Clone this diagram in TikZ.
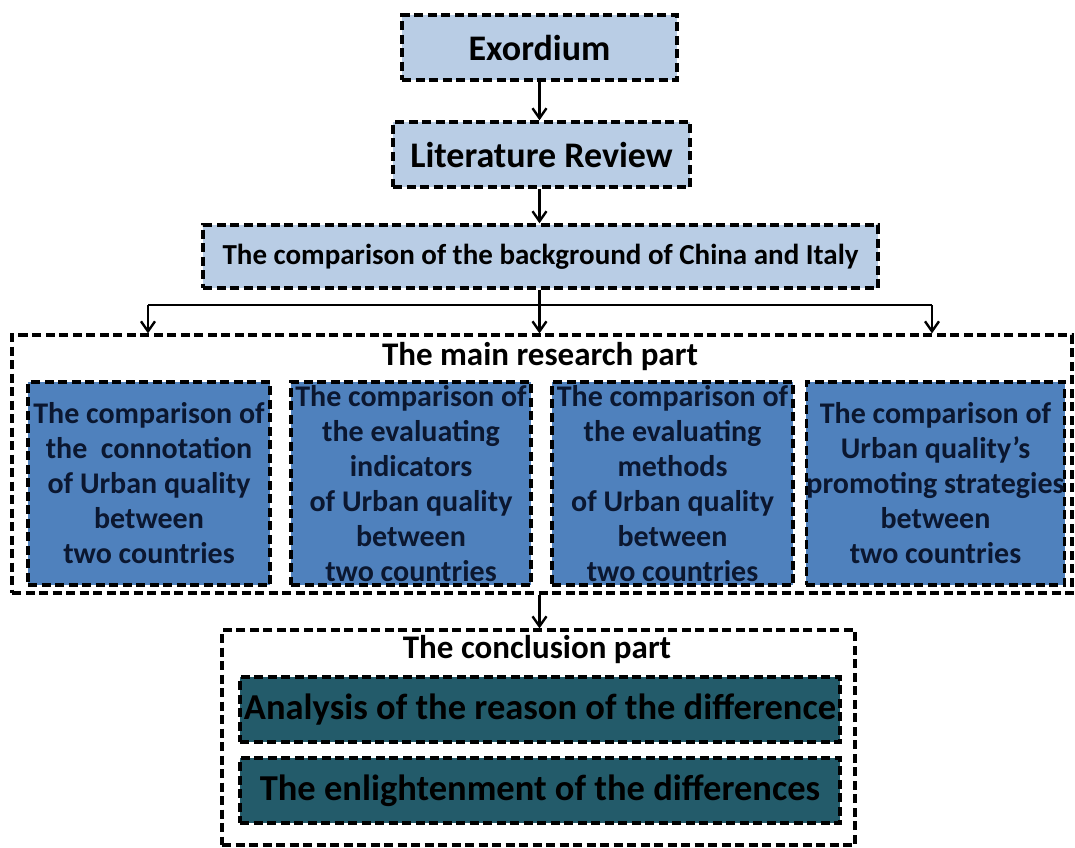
\documentclass[tikz,border=0pt]{standalone}
\usepackage{fontspec}
\setmainfont{Carlito}
\usetikzlibrary{arrows.meta,positioning}
\definecolor{paleblue}{HTML}{B9CDE5}
\definecolor{midblue}{HTML}{4F81BD}
\definecolor{darkteal}{HTML}{235B6A}
\definecolor{navytext}{HTML}{0B1730}

\begin{document}
\begin{tikzpicture}[x=1pt,y=-1pt,line width=2pt,
  dashbox/.style={draw,line width=3.4pt,dash pattern=on 9pt off 4.5pt,inner sep=0pt,align=center,font=\bfseries\fontsize{36}{40}\selectfont},
  stagebox/.style={dashbox,fill=paleblue},
  partbox/.style={dashbox,fill=midblue,text=navytext,minimum height=203pt,font=\bfseries\fontsize{30}{35}\selectfont},
  endbox/.style={dashbox,fill=darkteal,minimum width=600pt,minimum height=65pt,font=\bfseries\fontsize{36.5}{40}\selectfont},
  frame/.style={draw,line width=3.2pt,dash pattern=on 9pt off 4.5pt},
  partlabel/.style={inner sep=0pt,font=\bfseries\fontsize{33}{36}\selectfont},
  arr/.style={-{Straight Barb[length=10pt,width=14pt,line width=2.4pt]},line width=2.4pt}]
\path[use as bounding box] (0,0) rectangle (1075,847);
% top chain
\node[stagebox,minimum width=275pt,minimum height=65pt] (exord) at (539.5,47.5) {Exordium};
\node[stagebox,minimum width=297pt,minimum height=65pt] (review) at (541.5,154.5) {Literature Review};
\node[stagebox,minimum width=675pt,minimum height=63pt,font=\bfseries\fontsize{29}{32}\selectfont] (backgr) at (540.5,256.5) {The comparison of the background of China and Italy};
% main research part
\node[frame,minimum width=1060pt,minimum height=258pt,inner sep=0pt] (main) at (542,464) {};
\node[partlabel] (mainlabel) at (540,357) {The main research part};
\node[partbox,minimum width=242pt] (connot) at (149,483.5) {The comparison of\\the \ connotation\\of Urban quality\\between\\two countries};
\node[partbox,minimum width=240pt] (indic) at (411,483.5) {The comparison of\\the evaluating\\indicators\\of Urban quality\\between\\two countries};
\node[partbox,minimum width=241pt] (method) at (672.5,483.5) {The comparison of\\the evaluating\\methods\\of Urban quality\\between\\two countries};
\node[partbox,minimum width=255pt] (strat) at (935.5,483.5) {The comparison of\\Urban quality’s\\promoting strategies\\between\\two countries};
% conclusion part
\node[frame,minimum width=633pt,minimum height=215pt,inner sep=0pt] (concl) at (538.5,737.5) {};
\node[partlabel] (concllabel) at (537,650) {The conclusion part};
\node[endbox] (reason) at (540,709.5) {Analysis of the reason of the difference};
\node[endbox] (enlight) at (540,790.5) {The enlightenment of the differences};
% connectors
\coordinate (lsplit) at (148,305);
\coordinate (rsplit) at (932,305);
\draw[arr] (exord.south) -- (exord.south |- review.north);
\draw[arr] (exord.south |- review.south) -- (exord.south |- backgr.north);
\draw[line width=2.4pt] (lsplit) -- (rsplit);
\draw[arr] (exord.south |- backgr.south) -- (exord.south |- main.north);
\draw[arr] (lsplit) -- (lsplit |- main.north);
\draw[arr] (rsplit) -- (rsplit |- main.north);
\draw[arr] (exord.south |- main.south) -- (exord.south |- concl.north);
\end{tikzpicture}
\end{document}
